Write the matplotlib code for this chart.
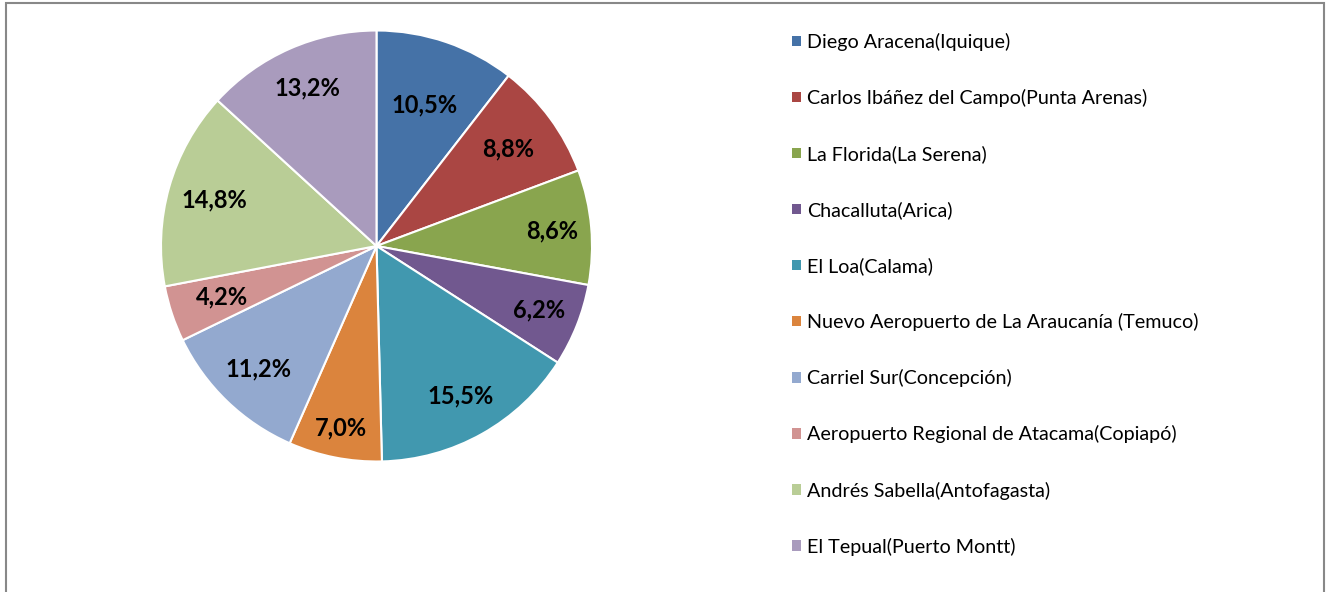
import numpy as np
import matplotlib.pyplot as plt
from matplotlib.patches import Patch, Rectangle

plt.rcParams['font.family'] = ['Lato', 'DejaVu Sans']

# airports and their share (%)
airports = [
    'Diego Aracena(Iquique)',
    'Carlos Ibáñez del Campo(Punta Arenas)',
    'La Florida(La Serena)',
    'Chacalluta(Arica)',
    'El Loa(Calama)',
    'Nuevo Aeropuerto de La Araucanía (Temuco)',
    'Carriel Sur(Concepción)',
    'Aeropuerto Regional de Atacama(Copiapó)',
    'Andrés Sabella(Antofagasta)',
    'El Tepual(Puerto Montt)',
]
shares = [10.5, 8.8, 8.6, 6.2, 15.5, 7.0, 11.2, 4.2, 14.8, 13.2]
colors = ['#4572A7', '#AA4643', '#89A54E', '#71588F', '#4198AF',
          '#DB843D', '#93A9CF', '#D19392', '#B9CD96', '#A99BBD']
# radial placement of each percentage label (Excel "best fit" look)
label_r = [0.69, 0.76, 0.82, 0.81, 0.80, 0.86, 0.79, 0.755, 0.78, 0.80]

W, H = 1328, 592
fig = plt.figure(figsize=(W / 100, H / 100), dpi=100)

# pie axes: centre (376.5, 246), radius 215.5 px
r = 215.5
ax = fig.add_axes([(376.5 - r) / W, (H - 246 - r) / H, 2 * r / W, 2 * r / H])
wedges, texts, autotexts = ax.pie(
    shares, colors=colors, startangle=90, counterclock=False,
    autopct=lambda p: f'{p:.1f}%'.replace('.', ','), pctdistance=0.79,
    wedgeprops=dict(edgecolor='white', linewidth=1.5),
    textprops=dict(fontsize=17, fontweight='bold', color='black'))
for w, t, d in zip(wedges, autotexts, label_r):
    ang = np.deg2rad((w.theta1 + w.theta2) / 2)
    t.set_position((d * np.cos(ang), d * np.sin(ang)))
ax.set_xlim(-1, 1)
ax.set_ylim(-1, 1)
ax.set_aspect('equal')
ax.axis('off')

handles = [Patch(facecolor=c, edgecolor='none') for c in colors]
fig.legend(handles, airports, loc='upper left',
           bbox_to_anchor=(792 / W, 1 - 33 / H), frameon=False,
           fontsize=14.2, handlelength=0.45, handleheight=0.45,
           handletextpad=0.3, labelspacing=1.93, borderaxespad=0,
           borderpad=0)

# outer frame
fig.patches.append(Rectangle((6 / W, -0.05), (1324 - 6) / W, 1.05 - 3 / H,
                             transform=fig.transFigure, fill=False,
                             edgecolor='#888888', linewidth=1.5))

fig.savefig('out.png', dpi=100)
